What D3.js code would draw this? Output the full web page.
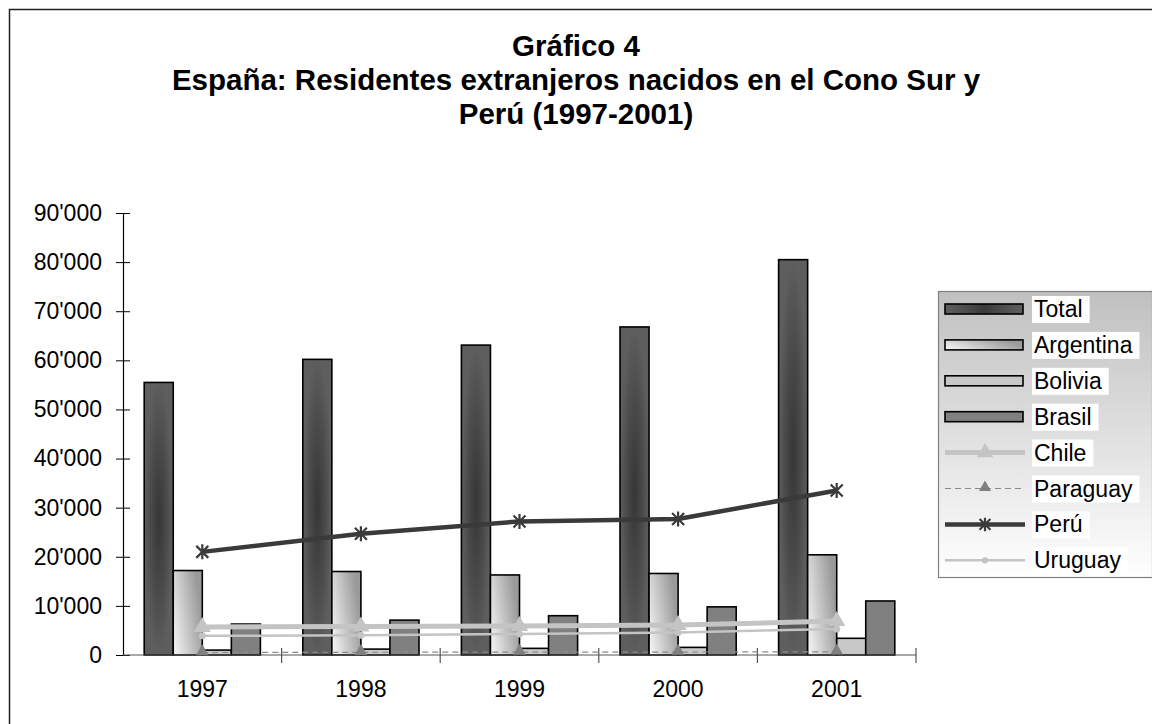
<!DOCTYPE html>
<html><head><meta charset="utf-8">
<script src="https://cdn.jsdelivr.net/npm/d3@7"></script>
<style>html,body{margin:0;padding:0;background:#fff;}svg{display:block;font-family:"Liberation Sans",Arial,sans-serif;}</style>
</head><body>
<svg id="c" width="1152" height="724"></svg>
<script>
const years = ["1997","1998","1999","2000","2001"];
const barSeries = ["Total","Argentina","Bolivia","Brasil"];
const total     = [55500, 60200, 63100, 66800, 80500];
const argentina = [17200, 17000, 16300, 16600, 20400];
const bolivia   = [1000, 1200, 1350, 1550, 3400];
const brasil    = [6300, 7100, 8000, 9800, 11000];
const chile     = [5700, 5800, 5900, 6100, 6900];
const paraguay  = [500, 550, 600, 600, 650];
const peru      = [21000, 24700, 27200, 27700, 33500];
const uruguay   = [3900, 4000, 4300, 4600, 5300];
const yTicks = [0,10000,20000,30000,40000,50000,60000,70000,80000,90000];
const titleLines = ["Gráfico 4","España: Residentes extranjeros nacidos en el Cono Sur y","Perú (1997-2001)"];
const legendNames = ["Total","Argentina","Bolivia","Brasil","Chile","Paraguay","Perú","Uruguay"];

const barData = {Total: total, Argentina: argentina, Bolivia: bolivia, Brasil: brasil};
const lineData = {Chile: chile, Paraguay: paraguay, "Perú": peru, Uruguay: uruguay};

const svg = d3.select("#c");
const defs = svg.append("defs");
// gradients
const gT = defs.append("radialGradient").attr("id","gTotal").attr("cx",0.5).attr("cy",0.5).attr("r",0.5);
gT.append("stop").attr("offset","0%").attr("stop-color","#363636");
gT.append("stop").attr("offset","60%").attr("stop-color","#4c4c4c");
gT.append("stop").attr("offset","100%").attr("stop-color","#5e5e5e");
const gA = defs.append("linearGradient").attr("id","gArg").attr("x1",0).attr("y1",1).attr("x2",1).attr("y2",0.6);
gA.append("stop").attr("offset","0%").attr("stop-color","#f8f8f8");
gA.append("stop").attr("offset","100%").attr("stop-color","#9a9a9a");
const gL = defs.append("linearGradient").attr("id","gLeg").attr("x1",0).attr("y1",0).attr("x2",0).attr("y2",1);
gL.append("stop").attr("offset","0%").attr("stop-color","#c0c0c0");
gL.append("stop").attr("offset","100%").attr("stop-color","#ffffff");
const gTL = defs.append("linearGradient").attr("id","gTotalLeg").attr("x1",0).attr("y1",0).attr("x2",1).attr("y2",0);
gTL.append("stop").attr("offset","0%").attr("stop-color","#606060");
gTL.append("stop").attr("offset","50%").attr("stop-color","#3a3a3a");
gTL.append("stop").attr("offset","100%").attr("stop-color","#606060");

const barFill = {Total:"url(#gTotal)", Argentina:"url(#gArg)", Bolivia:"#c8c8c8", Brasil:"#808080"};

// outer frame
svg.append("rect").attr("x",9.5).attr("y",9.5).attr("width",1300).attr("height",900)
  .attr("fill","none").attr("stroke","#222").attr("stroke-width",1.5);

// title
svg.append("g").selectAll("text").data(titleLines).join("text")
  .attr("x",576).attr("y",(d,i)=>56+i*34).attr("text-anchor","middle")
  .attr("font-weight","bold").attr("font-size",29.5).attr("fill","#000").text(d=>d);

const x0 = d3.scaleBand().domain(years).range([123,916]).paddingInner(0).paddingOuter(0);
const x1 = d3.scaleBand().domain(barSeries).range([0,x0.bandwidth()]).paddingInner(0).paddingOuter(0.73);
const y = d3.scaleLinear().domain([0,90000]).range([655,213]);
const fmt = d => d3.format(",")(d).replace(/,/g,"'");

// bars
const bars = svg.append("g");
barSeries.forEach(s=>{
  bars.selectAll(null).data(barData[s].map((v,i)=>({v,yr:years[i]}))).join("rect")
    .attr("x",d=>x0(d.yr)+x1(s)).attr("width",x1.bandwidth())
    .attr("y",d=>y(d.v)).attr("height",d=>y(0)-y(d.v))
    .attr("fill",barFill[s]).attr("stroke","#000").attr("stroke-width",1.6);
});

// axes
const yAxis = svg.append("g").attr("transform","translate(123,0)")
  .call(d3.axisLeft(y).tickValues(yTicks).tickFormat(fmt).tickSize(7).tickPadding(14));
yAxis.select(".domain").attr("stroke","#000").attr("stroke-width",1.2);
yAxis.selectAll(".tick line").attr("x2",7).attr("x1",-7).attr("stroke","#000");
yAxis.selectAll(".tick text").attr("font-size",23).attr("font-family","Liberation Sans, Arial").attr("fill","#000").attr("x",-21);

const xAxis = svg.append("g").attr("transform","translate(0,655)");
xAxis.append("line").attr("x1",123).attr("x2",916).attr("stroke","#555").attr("stroke-width",1.2);
const catEdges = years.map(yv=>x0(yv)+x0.bandwidth());
xAxis.selectAll(".ct").data(catEdges).join("line").attr("class","ct")
  .attr("x1",d=>d).attr("x2",d=>d).attr("y1",-7).attr("y2",8).attr("stroke","#555").attr("stroke-width",1.2);
xAxis.selectAll(".cl").data(years).join("text").attr("class","cl")
  .attr("x",d=>x0(d)+x0.bandwidth()/2).attr("y",42).attr("text-anchor","middle")
  .attr("font-size",23).attr("fill","#000").text(d=>d);

// lines
const cx = yr => x0(yr)+x0.bandwidth()/2;
const lineStyle = {
  Chile:{stroke:"#c4c4c4",w:5,dash:null},
  Paraguay:{stroke:"#8a8a8a",w:1.2,dash:"6,4"},
  "Perú":{stroke:"#3a3a3a",w:4.5,dash:null},
  Uruguay:{stroke:"#c4c4c4",w:2.5,dash:null}
};
const lineGen = d3.line().x(d=>cx(d.yr)).y(d=>y(d.v));
const lg = svg.append("g");
const tri = (s)=>d3.symbol().type(d3.symbolTriangle).size(s)();
function drawMarker(g, name, px, py, scale){
  scale = scale||1;
  if(name==="Chile"){
    g.append("path").attr("d",tri(130*scale)).attr("transform",`translate(${px},${py})`).attr("fill","#c4c4c4");
  } else if(name==="Paraguay"){
    g.append("path").attr("d",tri(70*scale)).attr("transform",`translate(${px},${py-1})`).attr("fill","#808080");
  } else if(name==="Perú"){
    const r=7.5*scale, a=r*0.8;
    const p=`M0,${-r}L0,${r}M${-a},${-a}L${a},${a}M${-a},${a}L${a},${-a}`;
    g.append("path").attr("d",p).attr("transform",`translate(${px},${py})`).attr("stroke","#3a3a3a").attr("stroke-width",2.2).attr("fill","none");
  } else if(name==="Uruguay"){
    g.append("circle").attr("cx",px).attr("cy",py).attr("r",3.5*scale).attr("fill","#c4c4c4");
  }
}
["Paraguay","Uruguay","Chile","Perú"].forEach(n=>{
  const pts = lineData[n].map((v,i)=>({v,yr:years[i]}));
  const st = lineStyle[n];
  lg.append("path").datum(pts).attr("d",lineGen).attr("fill","none")
    .attr("stroke",st.stroke).attr("stroke-width",st.w).attr("stroke-dasharray",st.dash);
  pts.forEach(p=>drawMarker(lg,n,cx(p.yr),y(p.v)));
});

// legend
const L = svg.append("g");
L.append("rect").attr("x",938.5).attr("y",291.5).attr("width",214).attr("height",286)
  .attr("fill","url(#gLeg)").attr("stroke","#808080").attr("stroke-width",1.2);
legendNames.forEach((n,i)=>{
  const cy = 309 + i*35.9;
  const tb = L.append("rect").attr("x",1032).attr("y",cy-13).attr("height",27).attr("fill","#fff");
  const t = L.append("text").attr("x",1034).attr("y",cy+8).attr("font-size",23).attr("fill","#000").text(n);
  tb.attr("width",t.node().getComputedTextLength()+9);
  if(barSeries.includes(n)){
    L.append("rect").attr("x",945).attr("y",cy-5).attr("width",78).attr("height",10)
      .attr("fill",n==="Total"?"url(#gTotalLeg)":barFill[n]).attr("stroke","#000").attr("stroke-width",1.6);
  } else {
    const st=lineStyle[n];
    L.append("line").attr("x1",945).attr("x2",1025).attr("y1",cy).attr("y2",cy)
      .attr("stroke",st.stroke).attr("stroke-width",st.w).attr("stroke-dasharray",st.dash);
    drawMarker(L,n,985,cy,0.9);
  }
});
</script>
</body></html>
